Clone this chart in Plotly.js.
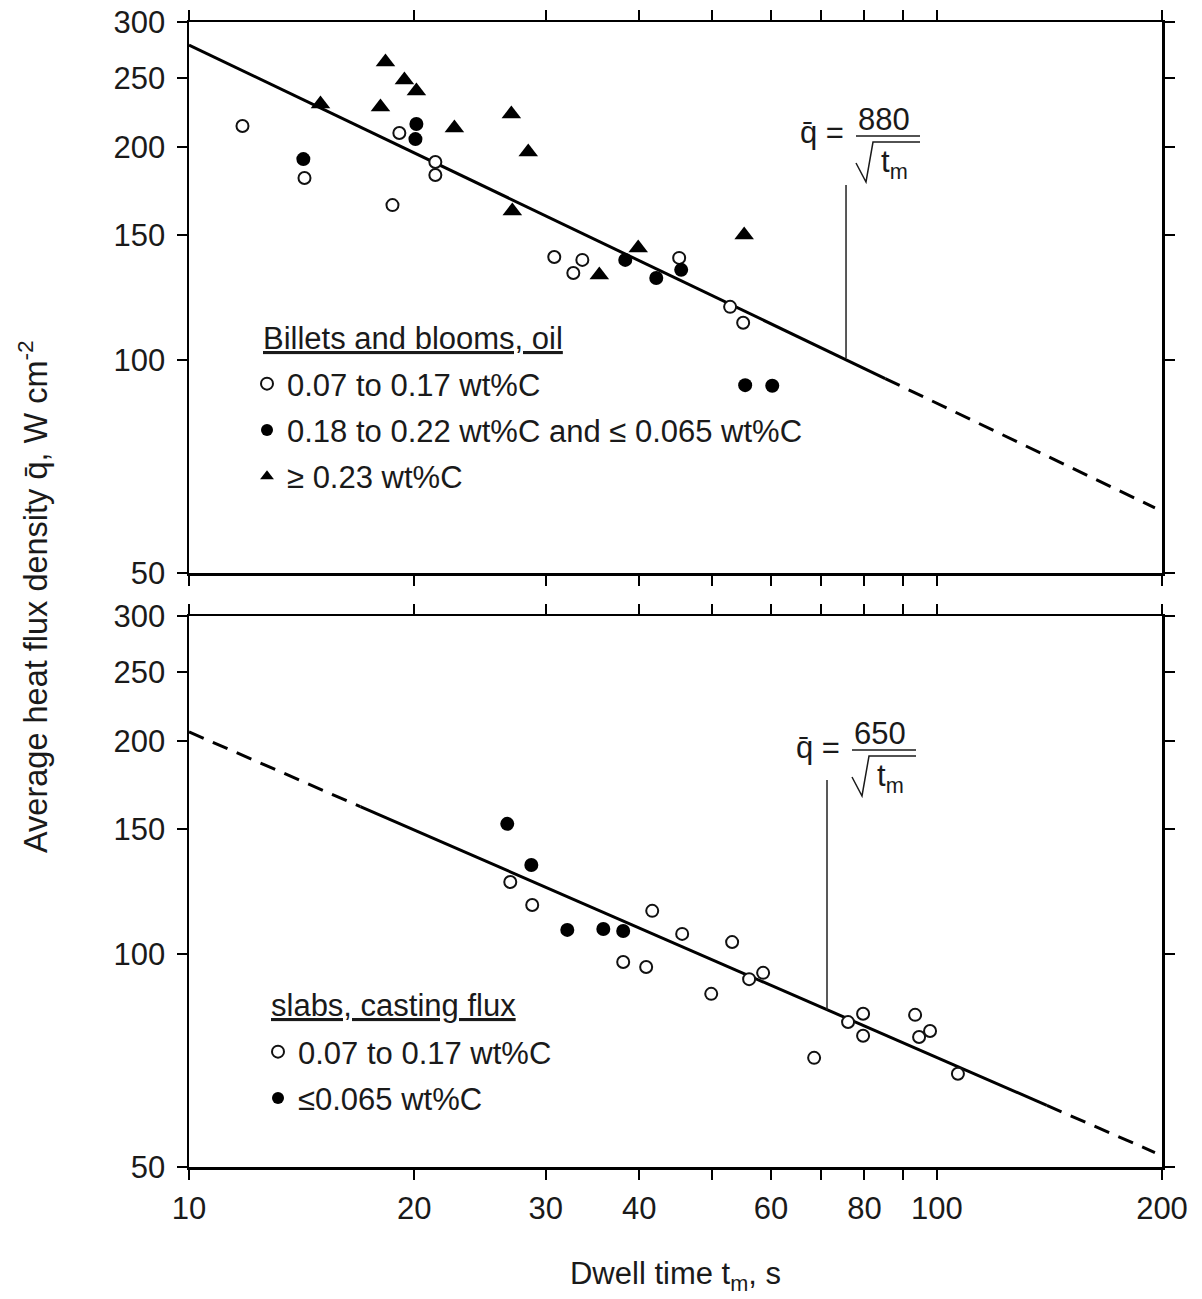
<!DOCTYPE html>
<html>
<head>
<meta charset="utf-8">
<script src="https://cdn.plot.ly/plotly-3.0.1.min.js"></script>
<style>html,body{margin:0;padding:0;background:#fff;}#chart{width:1202px;height:1299px;}</style>
</head>
<body>
<div id="chart"></div>
<script>
// ---- Data ----
// Top panel: billets and blooms, oil
const topOpenX = [11.79, 14.27, 18.71, 19.11, 21.35, 21.35, 30.79, 32.65, 33.57, 45.23, 52.91, 55.08];
const topOpenY = [213.9, 180.6, 165.4, 209.1, 190.3, 182.4, 139.7, 132.6, 138.4, 139.3, 118.8, 112.8];
const topFilledX = [14.22, 20.14, 20.08, 38.31, 42.15, 45.51, 55.42, 60.24];
const topFilledY = [192.1, 215.3, 205.0, 138.4, 130.5, 134.0, 92.1, 91.9];
const topTriX = [14.99, 18.31, 19.41, 20.14, 18.03, 22.64, 26.98, 28.42, 27.06, 35.37, 39.87, 55.25];
const topTriY = [229.8, 263.4, 248.4, 239.7, 227.6, 212.5, 222.5, 196.6, 162.3, 131.8, 143.9, 150.1];
const topFitSolidX = [10, 85.3];
const topFitSolidY = [278.4, 94.1];
const topFitDashX = [85.3, 195.7];
const topFitDashY = [94.1, 61.8];
const topPointerX = [75.6, 75.6];
const topPointerY = [176.6, 100.6];

// Bottom panel: slabs, casting flux
const botOpenX = [26.89, 28.77, 38.07, 40.86, 41.63, 45.65, 49.92, 53.24, 56.10, 58.57, 68.53, 76.08, 79.68, 79.68, 93.52, 94.67, 97.92, 106.7];
const botOpenY = [126.3, 117.2, 97.4, 95.8, 115.0, 106.7, 87.8, 103.9, 92.1, 94.0, 71.3, 80.1, 82.3, 76.6, 82.0, 76.3, 77.8, 67.7];
const botFilledX = [26.64, 28.69, 32.05, 35.81, 38.07];
const botFilledY = [152.6, 133.5, 108.1, 108.4, 107.7];
const botFitDash1X = [10, 16.95];
const botFitDash1Y = [205.8, 161.4];
const botFitSolidX = [16.95, 140.3];
const botFitSolidY = [161.4, 61.1];
const botFitDash2X = [140.3, 195.7];
const botFitDash2Y = [61.1, 52.4];
const botPointerX = [71.3, 71.3];
const botPointerY = [176.0, 83.3];

// Axis ticks
const xTickVals = [10, 20, 30, 40, 60, 80, 100, 200];
const xTickText = ['10', '20', '30', '40', '60', '80', '100', '200'];
const xMinorVals = [50, 70, 90];
const yTickVals = [50, 100, 150, 200, 250, 300];
const yTickText = ['50', '100', '150', '200', '250', '300'];

// Labels
const topHeading = 'Billets and blooms, oil';
const topNames = ['0.07 to 0.17 wt%C', '0.18 to 0.22 wt%C and \u2264 0.065 wt%C', '\u2265 0.23 wt%C'];
const botHeading = 'slabs, casting flux';
const botNames = ['0.07 to 0.17 wt%C', '\u22640.065 wt%C'];

// ---- Layout helpers (pixel -> paper) ----
const L = 189, R = 1162, T = 22, B = 1167;
const px = x => (x - L) / (R - L);
const py = y => (B - y) / (B - T);
const FONT = 'Liberation Sans, Arial, Helvetica, sans-serif';
const INK = '#1a1a1a';
const FS = 31;

const openMarker = {symbol: 'circle', size: 12, color: '#ffffff', line: {color: '#111', width: 2}};
const filledMarker = {symbol: 'circle', size: 14, color: '#000', line: {color: '#000', width: 0}};
const triMarker = {symbol: 'triangle-up', size: 17, color: '#000', line: {color: '#000', width: 0}};
const fitLine = {color: '#000', width: 3};
const dashLine = {color: '#000', width: 3, dash: '16px,10px'};
const ptrLine = {color: '#222', width: 1.5};

const traces = [
  // top panel lines
  {x: topFitSolidX, y: topFitSolidY, xaxis: 'x2', yaxis: 'y2', mode: 'lines', line: fitLine, showlegend: false, hoverinfo: 'skip'},
  {x: topFitDashX, y: topFitDashY, xaxis: 'x2', yaxis: 'y2', mode: 'lines', line: dashLine, showlegend: false, hoverinfo: 'skip'},
  {x: topPointerX, y: topPointerY, xaxis: 'x2', yaxis: 'y2', mode: 'lines', line: ptrLine, showlegend: false, hoverinfo: 'skip'},
  // top panel markers
  {x: topOpenX, y: topOpenY, xaxis: 'x2', yaxis: 'y2', mode: 'markers', marker: openMarker, name: topNames[0], legend: 'legend', legendgroup: 'a'},
  {x: topFilledX, y: topFilledY, xaxis: 'x2', yaxis: 'y2', mode: 'markers', marker: filledMarker, name: topNames[1], legend: 'legend', legendgroup: 'b'},
  {x: topTriX, y: topTriY, xaxis: 'x2', yaxis: 'y2', mode: 'markers', marker: triMarker, name: topNames[2], legend: 'legend', legendgroup: 'c'},
  // bottom panel lines
  {x: botFitDash1X, y: botFitDash1Y, mode: 'lines', line: dashLine, showlegend: false, hoverinfo: 'skip'},
  {x: botFitSolidX, y: botFitSolidY, mode: 'lines', line: fitLine, showlegend: false, hoverinfo: 'skip'},
  {x: botFitDash2X, y: botFitDash2Y, mode: 'lines', line: dashLine, showlegend: false, hoverinfo: 'skip'},
  {x: botPointerX, y: botPointerY, mode: 'lines', line: ptrLine, showlegend: false, hoverinfo: 'skip'},
  // bottom panel markers
  {x: botOpenX, y: botOpenY, mode: 'markers', marker: openMarker, name: botNames[0], legend: 'legend2', legendgroup: 'd'},
  {x: botFilledX, y: botFilledY, mode: 'markers', marker: filledMarker, name: botNames[1], legend: 'legend2', legendgroup: 'e'}
];

const axisCommon = {
  type: 'log', range: [1, Math.log10(200)],
  showgrid: false, zeroline: false,
  showline: true, linecolor: '#000', linewidth: 2.5,
  mirror: 'ticks', ticks: 'outside', ticklen: 10, tickwidth: 2, tickcolor: '#000',
  tickmode: 'array', tickvals: xTickVals, ticktext: xTickText,
  minor: {tickmode: 'array', tickvals: xMinorVals, ticks: 'outside', ticklen: 10, tickwidth: 2, tickcolor: '#000', showgrid: false},
  tickfont: {family: FONT, size: FS, color: INK}
};
const yCommon = {
  type: 'log', range: [Math.log10(50), Math.log10(300)],
  showgrid: false, zeroline: false,
  showline: true, linecolor: '#000', linewidth: 2.5,
  mirror: 'ticks', ticks: 'outside', ticklen: 10, tickwidth: 2, tickcolor: '#000',
  tickmode: 'array', tickvals: yTickVals, ticktext: yTickText,
  tickfont: {family: FONT, size: FS, color: INK},
  ticklabelstandoff: 5
};

function formula(dx, dy, num) {
  const anns = [
    {x: px(822 + dx), y: py(133 + dy), text: 'q\u0304 =', xanchor: 'center', yanchor: 'middle'},
    {x: px(884 + dx), y: py(119 + dy), text: num, xanchor: 'center', yanchor: 'middle'},
    {x: px(879 + dx), y: py(164 + dy), text: 't<sub>m</sub>', xanchor: 'left', yanchor: 'middle'}
  ].map(a => Object.assign({xref: 'paper', yref: 'paper', showarrow: false, font: {family: FONT, size: FS, color: INK}}, a));
  const shapes = [
    {type: 'line', xref: 'paper', yref: 'paper', x0: px(856 + dx), x1: px(920 + dx), y0: py(136 + dy), y1: py(136 + dy), line: {color: INK, width: 1.5}},
    {type: 'path', xref: 'paper', yref: 'paper',
     path: `M ${px(856 + dx)},${py(163 + dy)} L ${px(866 + dx)},${py(182 + dy)} L ${px(873 + dx)},${py(142 + dy)} L ${px(920 + dx)},${py(142 + dy)}`,
     line: {color: INK, width: 1.5}}
  ];
  return {anns, shapes};
}
const fTop = formula(0, 0, '880');
const fBot = formula(-4, 614, '650');

const layout = {
  width: 1202, height: 1299,
  margin: {l: L, r: 1202 - R, t: T, b: 1299 - B},
  paper_bgcolor: '#fff', plot_bgcolor: '#fff',
  font: {family: FONT, color: INK},
  showlegend: true,
  xaxis: Object.assign({}, axisCommon, {anchor: 'y', ticklabelstandoff: 2,
    title: {text: 'Dwell time t<sub>m</sub>, s', font: {family: FONT, size: FS, color: INK}, standoff: 38}}),
  yaxis: Object.assign({}, yCommon, {domain: [0, py(616)], anchor: 'x'}),
  xaxis2: Object.assign({}, axisCommon, {anchor: 'y2', matches: 'x', showticklabels: false}),
  yaxis2: Object.assign({}, yCommon, {domain: [py(573), 1], anchor: 'x2'}),
  legend: {x: px(247), y: py(357), xanchor: 'left', yanchor: 'top', bgcolor: 'rgba(0,0,0,0)', borderwidth: 0,
    font: {family: FONT, size: FS, color: INK}, itemsizing: 'constant', traceorder: 'grouped', tracegroupgap: 3},
  legend2: {x: px(258), y: py(1025), xanchor: 'left', yanchor: 'top', bgcolor: 'rgba(0,0,0,0)', borderwidth: 0,
    font: {family: FONT, size: FS, color: INK}, itemsizing: 'constant', traceorder: 'grouped', tracegroupgap: 3},
  annotations: [
    {xref: 'paper', yref: 'paper', x: px(261), y: py(338), xanchor: 'left', yanchor: 'middle', showarrow: false,
     text: '<u>' + topHeading + '</u>', font: {family: FONT, size: FS, color: INK}},
    {xref: 'paper', yref: 'paper', x: px(269), y: py(1005), xanchor: 'left', yanchor: 'middle', showarrow: false,
     text: '<u>' + botHeading + '</u>', font: {family: FONT, size: FS, color: INK}},
    {xref: 'paper', yref: 'paper', x: px(33), y: py(597), xanchor: 'center', yanchor: 'middle', showarrow: false, textangle: -90,
     text: 'Average heat flux density q\u0304, W cm<sup>-2</sup>', font: {family: FONT, size: 32.5, color: INK}}
  ].concat(fTop.anns, fBot.anns),
  shapes: [].concat(fTop.shapes, fBot.shapes)
};

Plotly.newPlot('chart', traces, layout, {staticPlot: true, displayModeBar: false});
</script>
</body>
</html>
